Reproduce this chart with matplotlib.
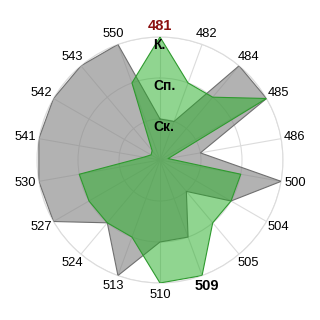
import numpy as np
import matplotlib.pyplot as plt

plt.rcParams['font.family'] = ['Liberation Sans', 'DejaVu Sans']

categories = ['481', '482', '484', '485', '486', '500', '504', '505', '509',
              '510', '513', '524', '527', '530', '541', '542', '543', '550']
gray_vals = [1, 1, 3, 3, 1, 3, 2, 1, 2, 2, 3, 2, 3, 3, 3, 3, 3, 3]
green_vals = [3, 2, 2, 3, 0.2, 2, 2, 2, 3, 3, 2, 2, 2, 2, 0.4, 0.25, 0.3, 2]
ring_labels = ['Ск.', 'Сп.', 'К.']
ring_levels = [1, 2, 3]
highlight = {'481': '#8b1010', '509': 'black'}

fig = plt.figure(figsize=(3.2, 3.2), dpi=100)
ax = fig.add_axes([37 / 320, 37 / 320, 246 / 320, 246 / 320], polar=True)
ax.set_theta_zero_location('N')
ax.set_theta_direction(-1)

n = len(categories)
theta = np.arange(n) * 2 * np.pi / n
th = np.append(theta, theta[0])
g1 = np.append(gray_vals, gray_vals[0])
g2 = np.append(green_vals, green_vals[0])

ax.fill(th, g1, color='#808080', alpha=0.6, zorder=2, lw=0)
ax.plot(th, g1, color='#707070', lw=0.8, zorder=3)
ax.fill(th, g2, color='#22ad22', alpha=0.5, zorder=4, lw=0)
ax.plot(th, g2, color='#2e9a2e', lw=0.8, zorder=5)

ax.set_ylim(0, 3)
ax.set_yticks(ring_levels)
ax.set_yticklabels([])
ax.set_xticks(theta)
ax.set_xticklabels([])
ax.set_axisbelow(True)
ax.grid(color='#dcdcdc', lw=0.8)
ax.spines['polar'].set_color('#dcdcdc')
ax.spines['polar'].set_linewidth(0.8)

# ring names along the top axis
for lev, lab in zip(ring_levels, ring_labels):
    ax.annotate(lab, xy=(0, lev - 0.2), xytext=(-7, 0), textcoords='offset pixels',
                ha='left', va='center', fontsize=10, fontweight='bold', zorder=6)

# category labels around the outside
for t, cat in zip(theta, categories):
    s, c = np.sin(t), np.cos(t)
    if cat in highlight:
        fs, fw, col = 10.5, 'bold', highlight[cat]
    else:
        fs, fw, col = 9.3, 'normal', 'black'
    w, h = 20, 11
    dx = s * (4 + w / 2)
    dy = c * (6 + h / 2)
    ax.annotate(cat, xy=(t, 3), xytext=(dx, dy), textcoords='offset pixels',
                ha='center', va='center', fontsize=fs, fontweight=fw,
                color=col, annotation_clip=False)

fig.savefig('out.png', dpi=100)
